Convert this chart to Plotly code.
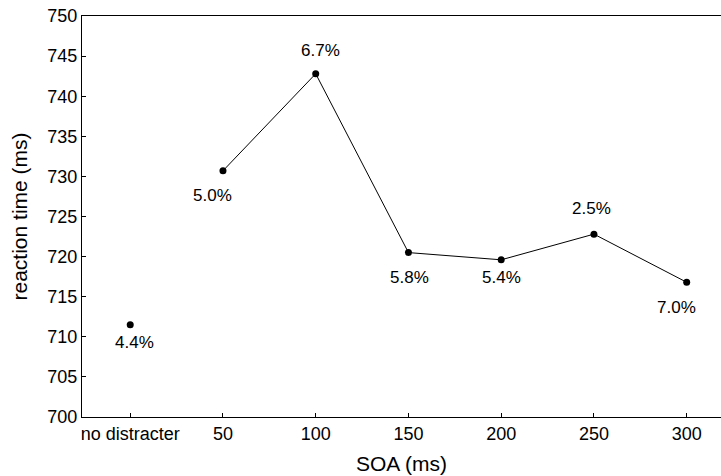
import plotly.graph_objects as go

categories = ["no distracter", "50", "100", "150", "200", "250", "300"]
rt_values = [711.5, 730.7, 742.8, 720.5, 719.6, 722.8, 716.8]
error_labels = ["4.4%", "5.0%", "6.7%", "5.8%", "5.4%", "2.5%", "7.0%"]
# label offsets in pixels (style only)
label_dx = [4, -10, 5, 1, 0, -2, -10]
label_dy = [-18, -25, 23, -25, -18, 26, -25]

xi = list(range(len(categories)))
font = "Liberation Sans, Arial, sans-serif"

fig = go.Figure()
fig.add_trace(go.Scatter(x=xi[:1], y=rt_values[:1], mode="markers",
                         marker=dict(color="black", size=7), showlegend=False))
fig.add_trace(go.Scatter(x=xi[1:], y=rt_values[1:], mode="lines+markers",
                         line=dict(color="black", width=1),
                         marker=dict(color="black", size=7), showlegend=False))

for i, (x, y, t) in enumerate(zip(xi, rt_values, error_labels)):
    fig.add_annotation(x=x, y=y, text=t, showarrow=False,
                       xshift=label_dx[i], yshift=label_dy[i],
                       font=dict(family=font, size=17, color="black"))

fig.update_layout(
    width=721, height=476,
    margin=dict(l=82, r=0, t=16, b=59),
    paper_bgcolor="white", plot_bgcolor="white",
    font=dict(family=font, size=18, color="black"),
    xaxis=dict(range=[-0.52, 6.37], tickvals=xi, ticktext=categories,
               showline=True, linecolor="black", linewidth=1, mirror=True,
               ticks="inside", ticklen=4, tickcolor="black", automargin=False,
               showgrid=False, zeroline=False, tickfont=dict(size=18),
               title=dict(text="SOA (ms)", font=dict(size=21), standoff=13)),
    yaxis=dict(range=[700, 750], dtick=5,
               showline=True, linecolor="black", linewidth=1,
               ticks="inside", ticklen=4, tickcolor="black", automargin=False,
               showgrid=False, zeroline=False, tickfont=dict(size=18),
               title=dict(text="reaction time (ms)", font=dict(size=21), standoff=14)),
)

fig.write_html("out.html")
